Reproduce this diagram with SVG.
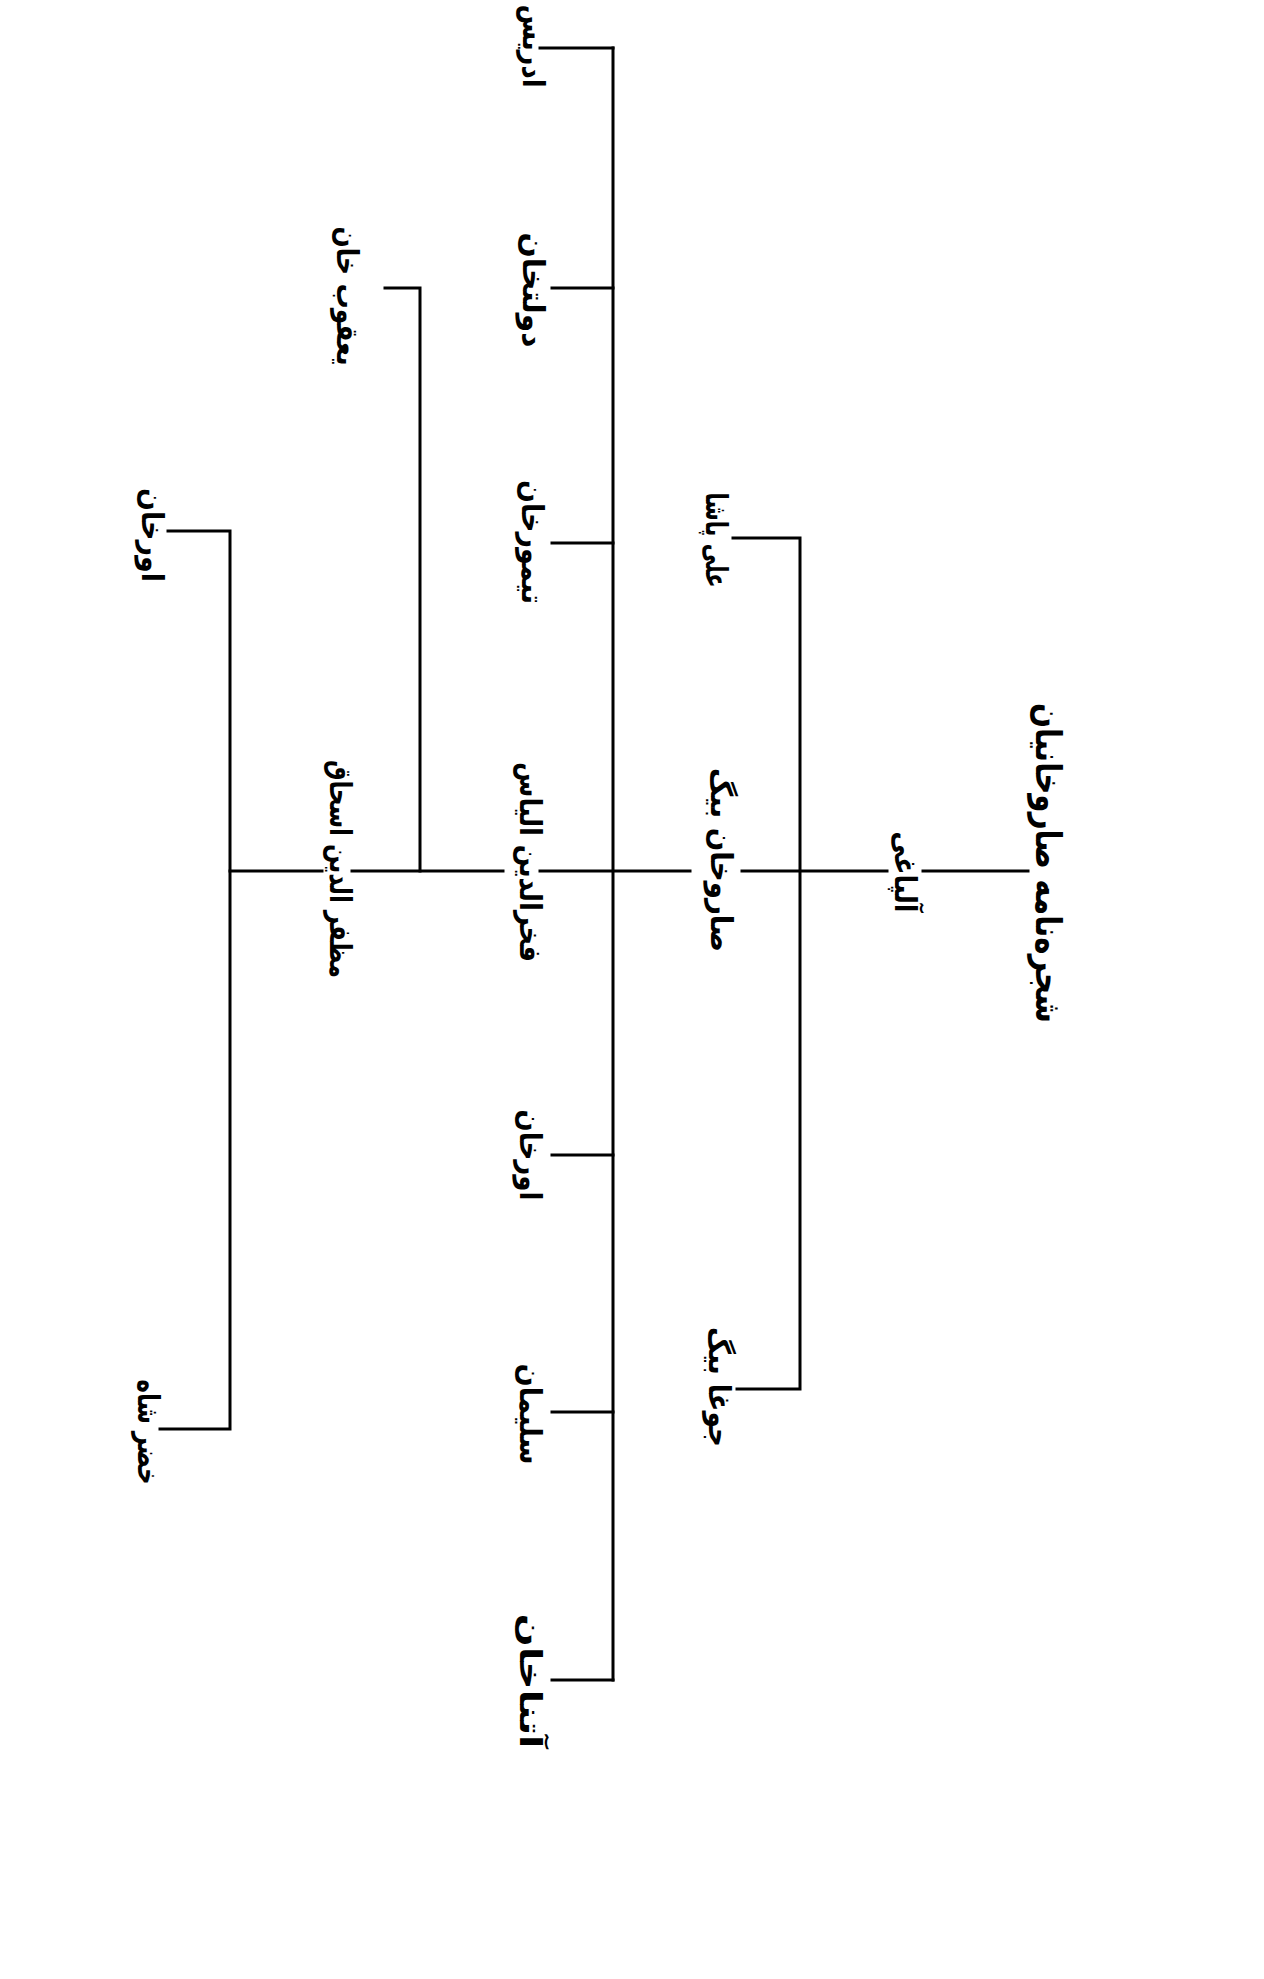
<svg xmlns="http://www.w3.org/2000/svg" width="1264" height="1979" viewBox="0 0 1264 1979">
<style>
.bg{fill:#ffffff}
.c{fill:none;stroke:#000;stroke-width:3;stroke-linecap:square}
.t{font-family:"DejaVu Sans",sans-serif;font-weight:bold;font-size:30px;fill:#000;text-anchor:middle;dominant-baseline:central}
.title{font-size:36px}
</style>
<rect class="bg" x="0" y="0" width="1264" height="1979"/>
<g id="connectors">
<path class="c" d="M1028,871 H923"/>
<path class="c" d="M887,871 H742"/>
<path class="c" d="M690,871 H540"/>
<path class="c" d="M503,871 H352"/>
<path class="c" d="M322,871 H230"/>
<path class="c" d="M733,538 H800 V1389 H737"/>
<path class="c" d="M613,48 V1680"/>
<path class="c" d="M540,48 H613"/>
<path class="c" d="M552,288 H613"/>
<path class="c" d="M552,543 H613"/>
<path class="c" d="M552,1155 H613"/>
<path class="c" d="M552,1412 H613"/>
<path class="c" d="M552,1680 H613"/>
<path class="c" d="M385,288 H420 V871"/>
<path class="c" d="M168,531 H230 V1429 H160"/>
</g>
<g id="title"><text class="t title" transform="translate(1048,863) rotate(90)" textLength="320" lengthAdjust="spacingAndGlyphs">شجره‌نامه صاروخانیان</text></g>
<g id="alpaghi"><text class="t" transform="translate(905,872) rotate(90)" textLength="81" lengthAdjust="spacingAndGlyphs">آلپاغی</text></g>
<g id="saruhan"><text class="t" transform="translate(721,860) rotate(90)" textLength="184" lengthAdjust="spacingAndGlyphs">صاروخان بیگ</text></g>
<g id="alipasha"><text class="t" transform="translate(716,540) rotate(90)" textLength="95" lengthAdjust="spacingAndGlyphs">علی پاشا</text></g>
<g id="jugha"><text class="t" transform="translate(719,1387) rotate(90)" textLength="120" lengthAdjust="spacingAndGlyphs">جوغا بیگ</text></g>
<g id="idris"><text class="t" transform="translate(533,46) rotate(90)" textLength="83" lengthAdjust="spacingAndGlyphs">ادریس</text></g>
<g id="dowlatkhan"><text class="t" transform="translate(533,290) rotate(90)" textLength="115" lengthAdjust="spacingAndGlyphs">دولتخان</text></g>
<g id="teymurkhan"><text class="t" transform="translate(532,542) rotate(90)" textLength="124" lengthAdjust="spacingAndGlyphs">تیمورخان</text></g>
<g id="ilyas"><text class="t" transform="translate(530,862) rotate(90)" textLength="200" lengthAdjust="spacingAndGlyphs">فخرالدین الیاس</text></g>
<g id="orkhan1"><text class="t" transform="translate(530,1155) rotate(90)" textLength="91" lengthAdjust="spacingAndGlyphs">اورخان</text></g>
<g id="soleyman"><text class="t" transform="translate(530,1414) rotate(90)" textLength="101" lengthAdjust="spacingAndGlyphs">سلیمان</text></g>
<g id="atnakhan"><text class="t" transform="translate(530,1681) rotate(90)" textLength="135" lengthAdjust="spacingAndGlyphs">آتناخان</text></g>
<g id="yaqubkhan"><text class="t" transform="translate(347,296) rotate(90)" textLength="139" lengthAdjust="spacingAndGlyphs">یعقوب خان</text></g>
<g id="ishaq"><text class="t" transform="translate(340,869) rotate(90)" textLength="218" lengthAdjust="spacingAndGlyphs">مظفر الدین اسحاق</text></g>
<g id="orkhan2"><text class="t" transform="translate(152,535) rotate(90)" textLength="94" lengthAdjust="spacingAndGlyphs">اورخان</text></g>
<g id="khezrshah"><text class="t" transform="translate(148,1432) rotate(90)" textLength="105" lengthAdjust="spacingAndGlyphs">خضر شاه</text></g>
</svg>
